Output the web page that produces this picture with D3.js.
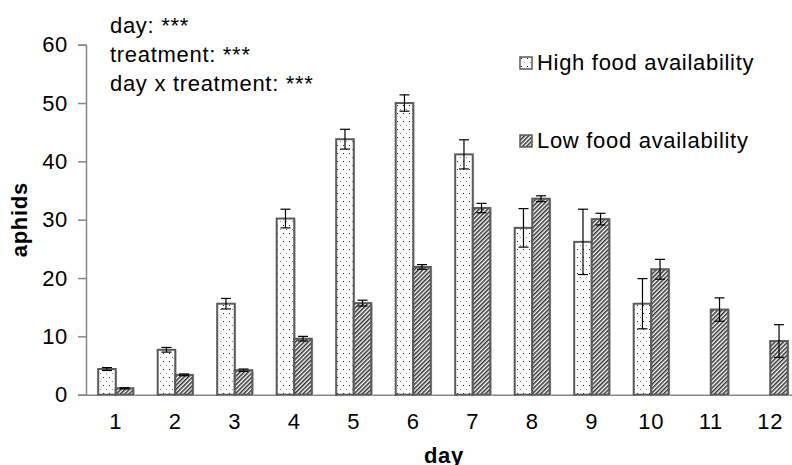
<!DOCTYPE html>
<html>
<head>
<meta charset="utf-8">
<script src="https://cdn.jsdelivr.net/npm/d3@7"></script>
<style>
  body { margin: 0; background: #fff; }
  text { font-family: "Liberation Sans", Arial, sans-serif; fill: #000; letter-spacing: 0.7px; }
</style>
</head>
<body>
<div class="chart"></div>
<script>
const days = ['1', '2', '3', '4', '5', '6', '7', '8', '9', '10', '11', '12'];
const highMean = [4.4, 7.7, 15.6, 30.2, 43.8, 50.0, 41.2, 28.6, 26.2, 15.6, null, null];
const highErr = [0.25, 0.4, 0.9, 1.6, 1.7, 1.4, 2.5, 3.3, 5.6, 4.3, null, null];
const lowMean = [1.1, 3.4, 4.2, 9.6, 15.7, 21.9, 32.0, 33.6, 30.1, 21.5, 14.6, 9.2];
const lowErr = [0.1, 0.15, 0.2, 0.4, 0.5, 0.4, 0.8, 0.5, 1.0, 1.7, 2.0, 2.8];
const yTicks = [0, 10, 20, 30, 40, 50, 60];
const seriesNames = ['High food availability', 'Low food availability'];
const statsLines = ['day: ***', 'treatment: ***', 'day x treatment: ***'];

const width = 792;
const height = 465;

const svg = d3.select('.chart').append('svg')
  .attr('width', width)
  .attr('height', height);

// fill patterns: sparse dots for high, diagonal hatching for low
const defs = svg.append('defs');
const dots = defs.append('pattern')
  .attr('id', 'dots')
  .attr('patternUnits', 'userSpaceOnUse')
  .attr('width', 6).attr('height', 8);
dots.append('rect').attr('width', 6).attr('height', 8).attr('fill', '#fff');
dots.append('rect').attr('x', 1).attr('y', 1).attr('width', 1).attr('height', 1).attr('fill', '#222');
dots.append('rect').attr('x', 4).attr('y', 5).attr('width', 1).attr('height', 1).attr('fill', '#888');

const hatch = defs.append('pattern')
  .attr('id', 'hatch')
  .attr('patternUnits', 'userSpaceOnUse')
  .attr('width', 3).attr('height', 3)
  .attr('patternTransform', 'rotate(45)');
hatch.append('rect').attr('width', 3).attr('height', 3).attr('fill', '#fff');
hatch.append('line').attr('x1', 0.8).attr('y1', 0).attr('x2', 0.8).attr('y2', 3)
  .attr('stroke', '#2a2a2a').attr('stroke-width', 1.5);

const fills = ['url(#dots)', 'url(#hatch)'];

const x0 = d3.scaleBand()
  .domain(days)
  .range([86, 800])
  .paddingInner(0.41)
  .paddingOuter(0.205);

const x1 = d3.scaleBand()
  .domain([0, 1])
  .range([0, x0.bandwidth()]);

const y = d3.scaleLinear()
  .domain([0, 60])
  .range([394.7, 44.7]);

// y axis
const yAxis = svg.append('g')
  .attr('transform', 'translate(86,0)')
  .call(d3.axisLeft(y).tickValues(yTicks).tickSize(8).tickPadding(10));
yAxis.selectAll('text').style('font-size', '22px');

// x axis
const xAxis = svg.append('g')
  .attr('transform', `translate(0,${y(0)})`)
  .call(d3.axisBottom(x0).tickSize(0).tickPadding(19));
xAxis.selectAll('text').style('font-size', '22px');

[yAxis, xAxis].forEach(function(ax) {
  ax.select('.domain').attr('stroke', '#868686').attr('stroke-width', 1.5);
  ax.selectAll('line').attr('stroke', '#868686').attr('stroke-width', 1.5);
  ax.selectAll('text').style('font-family', '"Liberation Sans", Arial, sans-serif').attr('fill', '#000');
});

// bars
const series = [
  { mean: highMean, err: highErr },
  { mean: lowMean, err: lowErr }
];

series.forEach(function(s, k) {
  const g = svg.append('g');
  const rows = days.map(function(d, i) {
    return { day: d, v: s.mean[i], e: s.err[i] };
  }).filter(function(r) { return r.v != null; });

  // faint shadow like the spreadsheet export
  g.selectAll('.shadow')
    .data(rows)
    .enter().append('rect')
    .attr('x', function(r) { return x0(r.day) + x1(k) + 1.5; })
    .attr('y', function(r) { return y(r.v) + 1.5; })
    .attr('width', x1.bandwidth())
    .attr('height', function(r) { return y(0) - y(r.v); })
    .attr('fill', '#d8d8d8');

  g.selectAll('.bar')
    .data(rows)
    .enter().append('rect')
    .attr('x', function(r) { return x0(r.day) + x1(k); })
    .attr('y', function(r) { return y(r.v); })
    .attr('width', x1.bandwidth())
    .attr('height', function(r) { return y(0) - y(r.v); })
    .attr('fill', fills[k])
    .attr('stroke', '#5a5a5a')
    .attr('stroke-width', 2);

  // error bars
  const eb = g.selectAll('.err')
    .data(rows.filter(function(r) { return r.e != null; }))
    .enter().append('g')
    .attr('stroke', '#000')
    .attr('stroke-width', 1.2);
  const cx = function(r) { return x0(r.day) + x1(k) + x1.bandwidth() / 2; };
  eb.append('line')
    .attr('x1', cx).attr('x2', cx)
    .attr('y1', function(r) { return y(r.v + r.e); })
    .attr('y2', function(r) { return y(r.v - r.e); });
  [1, -1].forEach(function(sign) {
    eb.append('line')
      .attr('x1', function(r) { return cx(r) - 5; })
      .attr('x2', function(r) { return cx(r) + 5; })
      .attr('y1', function(r) { return y(r.v + sign * r.e); })
      .attr('y2', function(r) { return y(r.v + sign * r.e); });
  });
});

// axis titles
svg.append('text')
  .attr('transform', `translate(27,${(y(0) + y(60)) / 2}) rotate(-90)`)
  .attr('text-anchor', 'middle')
  .style('font-size', '22px')
  .style('font-weight', 'bold')
  .text('aphids');

svg.append('text')
  .attr('x', 444)
  .attr('y', 463)
  .attr('text-anchor', 'middle')
  .style('font-size', '22px')
  .style('font-weight', 'bold')
  .text('day');

// stats annotation
svg.append('g').selectAll('text')
  .data(statsLines)
  .enter().append('text')
  .attr('x', 110)
  .attr('y', function(d, i) { return 33 + i * 29; })
  .style('font-size', '22px')
  .text(function(d) { return d; });

// legend
const legend = svg.append('g').selectAll('g')
  .data(seriesNames)
  .enter().append('g')
  .attr('transform', function(d, i) { return `translate(520,${57 + i * 78})`; });
legend.append('rect')
  .attr('width', 12).attr('height', 12)
  .attr('fill', function(d, i) { return fills[i]; })
  .attr('stroke', '#5a5a5a')
  .attr('stroke-width', 1.5);
legend.append('text')
  .attr('x', 17)
  .attr('y', 13)
  .style('font-size', '22px')
  .text(function(d) { return d; });
</script>
</body>
</html>
